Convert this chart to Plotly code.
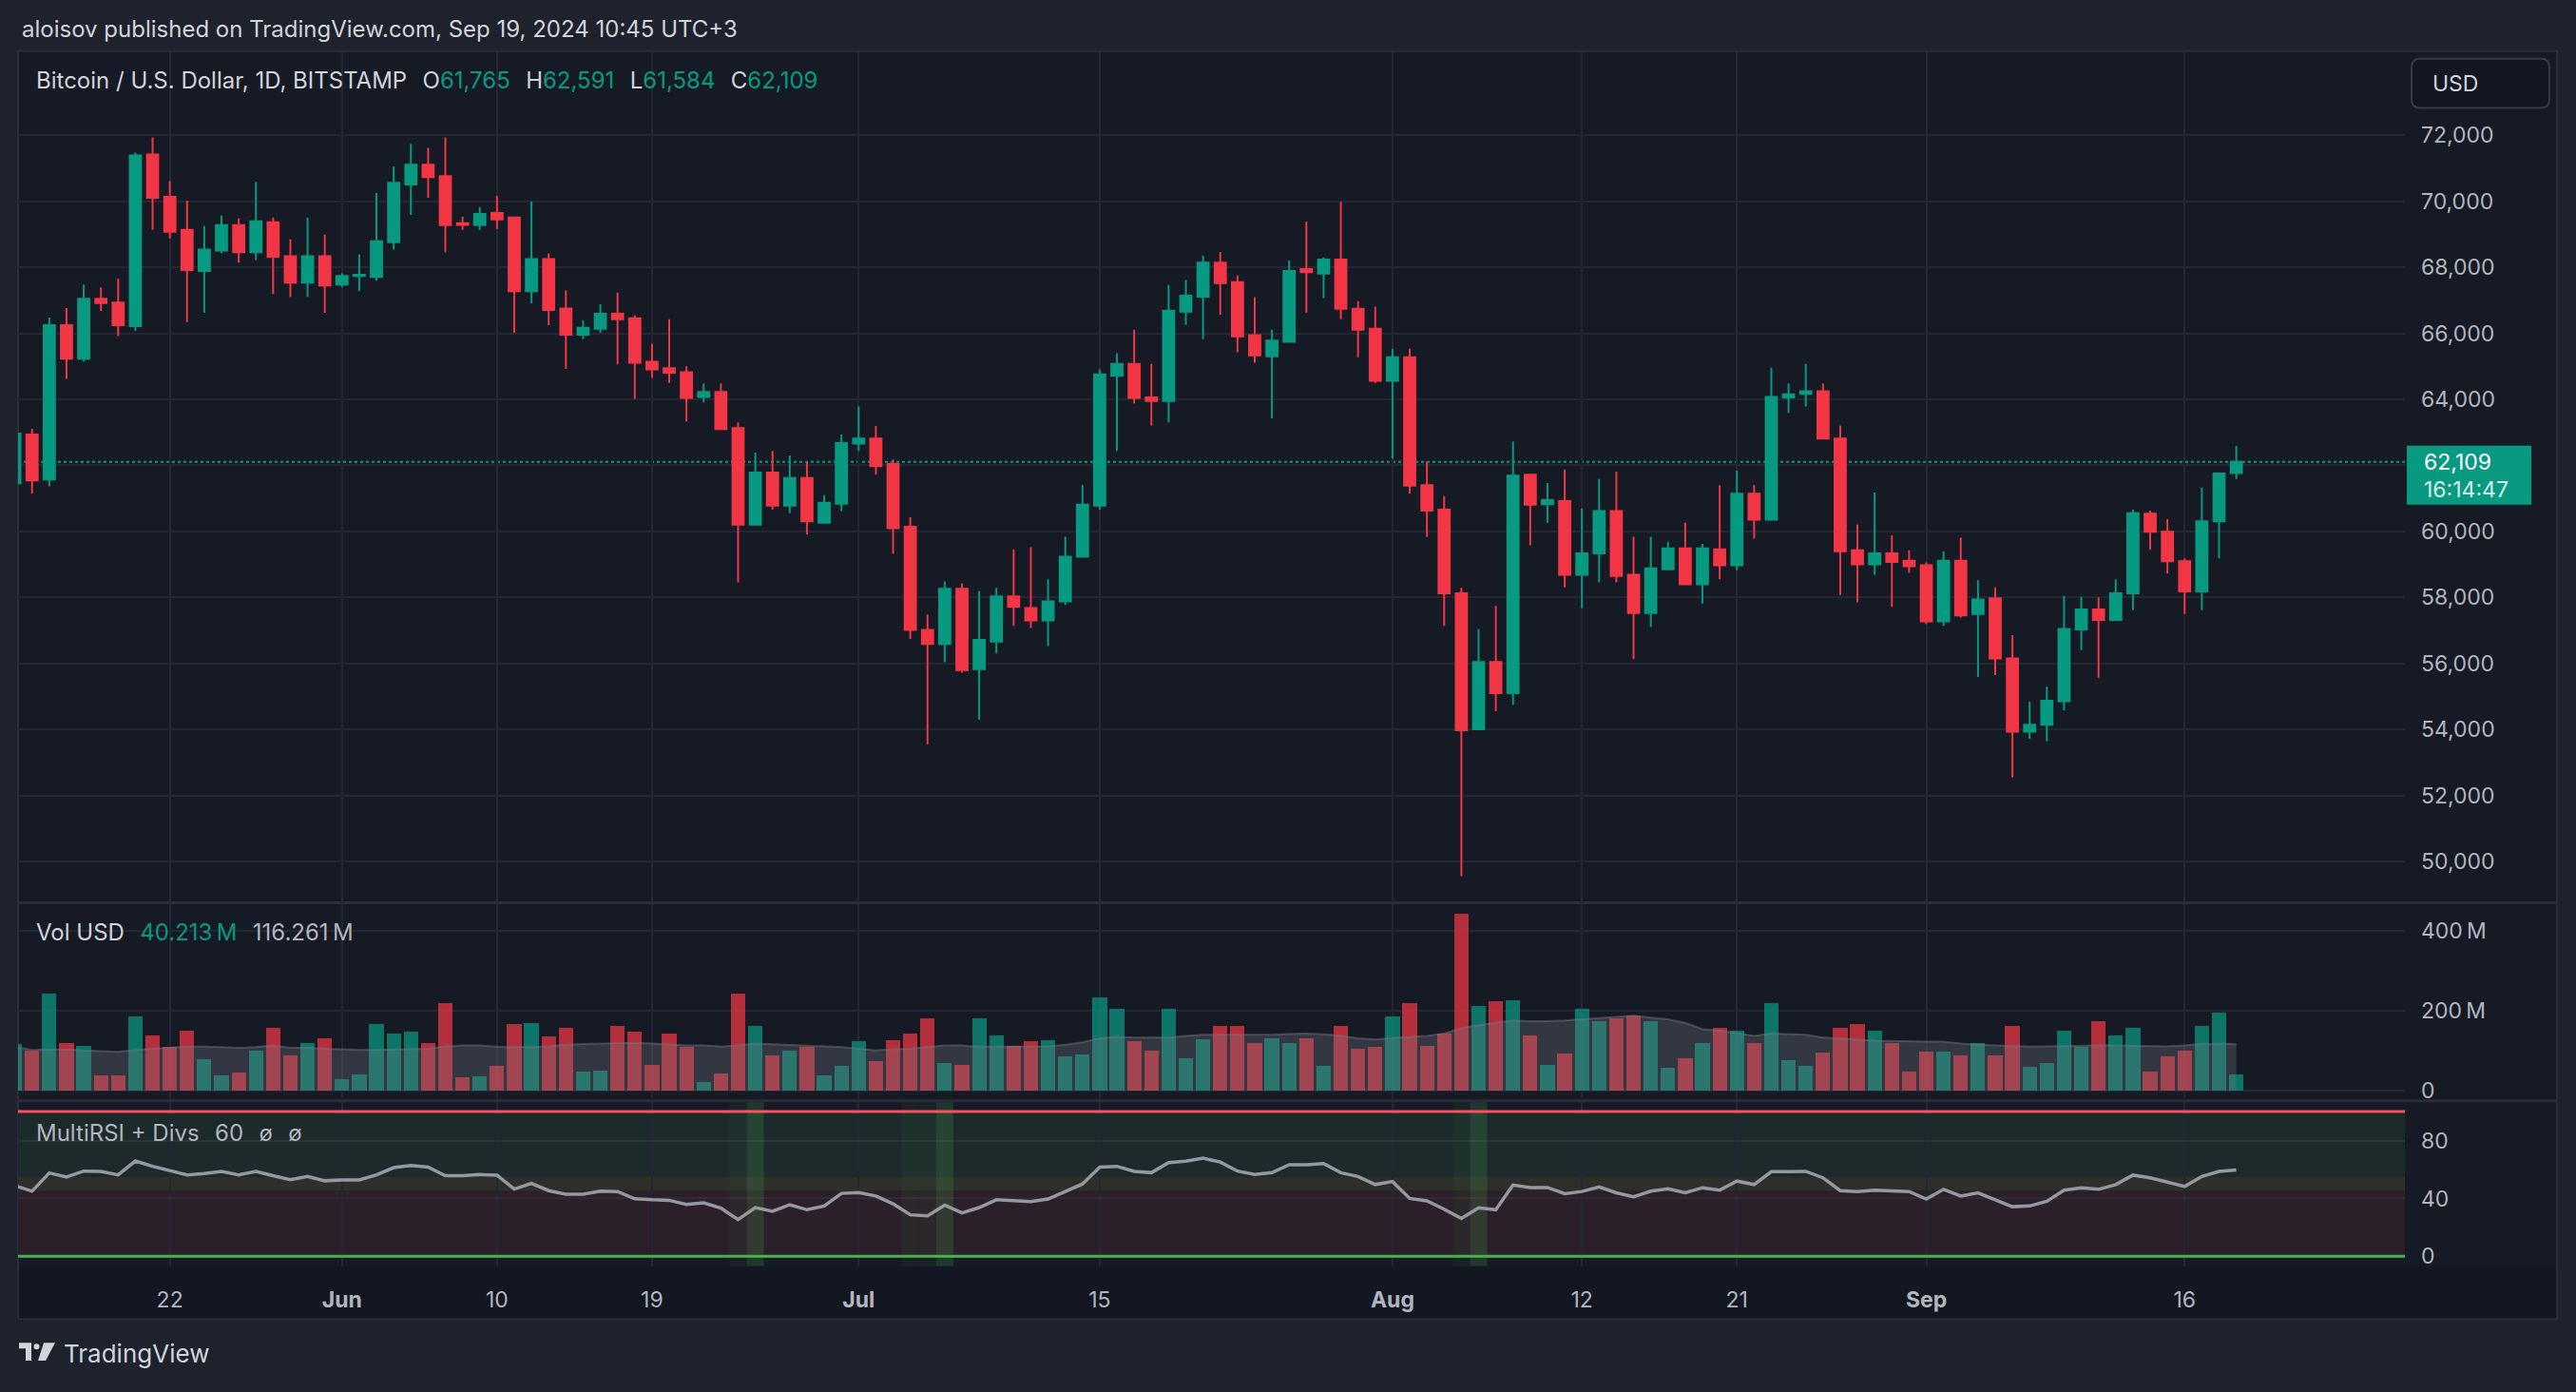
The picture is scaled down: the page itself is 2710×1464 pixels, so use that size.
import pandas as pd
import plotly.graph_objects as go

# BTC / USD daily candles (Bitstamp), 13 May - 19 Sep 2024
dates = pd.date_range("2024-05-13", "2024-09-19", freq="D")

opens = [
    61457, 62933, 61571, 66248, 65229, 67048, 66933, 66219, 71419, 70133,
    69133, 67886, 68505, 69276, 68457, 69362, 68333, 67533, 68333, 67476,
    67740, 67705, 68762, 70505, 71105, 70762, 69333, 69276, 69648, 69505,
    67276, 68248, 66750, 65957, 66139, 66594, 66458, 65137, 64940, 64818,
    64074, 64226, 63132, 60202, 61781, 60779, 61614, 60263, 60840, 62662,
    62814, 62039, 60141, 57014, 56588, 58258, 55829, 56664, 58031, 57681,
    57302, 57879, 59230, 60779, 64712, 65076, 64059, 63952, 66655, 67111,
    68143, 67551, 65942, 65304, 65745, 67946, 67809, 68234, 66746, 66139,
    64560, 65274, 61402, 60658, 58122, 54007, 56042, 55100, 61720, 60824,
    60916, 58683, 59337, 60612, 58683, 57530, 58851, 59488, 58395, 59458,
    58972, 61143, 60354, 64059, 64165, 64241, 62814, 59428, 59002, 59337,
    59108, 58972, 57272, 59108, 57500, 57970, 56148, 53931, 54143, 54857,
    57029, 57636, 57317, 58122, 60536, 59989, 59093, 58182, 60309, 61765,
]
highs = [
    63400, 63105, 66476, 66762, 67476, 67390, 67648, 71476, 71933, 70619,
    70019, 69248, 69562, 69476, 70590, 69505, 68848, 69505, 68990, 67819,
    68390, 70248, 71048, 71733, 71619, 71933, 69533, 69819, 70162, 69533,
    69990, 68419, 67300, 66397, 66883, 67232, 66549, 65683, 66427, 65000,
    64484, 64484, 63300, 62389, 62434, 62297, 62100, 61098, 62935, 63785,
    63193, 62176, 60430, 57484, 58486, 58425, 58198, 58289, 59458, 59519,
    58547, 59838, 61402, 64909, 65395, 66109, 65076, 67460, 67612, 68356,
    68462, 67748, 67095, 66109, 68204, 69388, 68295, 69981, 66974, 66807,
    65532, 65532, 62115, 61067, 58289, 57044, 57742, 62723, 61730, 61462,
    61872, 60688, 61584, 61811, 59838, 59838, 59686, 60263, 59625, 61402,
    61842, 61402, 64955, 64484, 65076, 64484, 63208, 60202, 61174, 59883,
    59428, 59063, 59397, 59807, 58517, 58304, 56860, 54842, 55298, 58046,
    58015, 58000, 58547, 60658, 60627, 60369, 59185, 61326, 61781, 62591,
]
lows = [
    60800, 61143, 61362, 64619, 65143, 66676, 65914, 66076, 69133, 68876,
    66343, 66619, 68430, 68143, 68219, 67190, 67105, 67105, 66619, 67390,
    67276, 67590, 68533, 69590, 70105, 68457, 69133, 69133, 69162, 66019,
    66905, 66248, 64920, 65820, 66018, 65061, 64013, 64651, 64499, 63330,
    63907, 63090, 58456, 60190, 60658, 60551, 59913, 60250, 60612, 62434,
    61720, 59321, 56740, 53552, 56042, 55723, 54296, 56300, 57135, 57074,
    56527, 57773, 59220, 60658, 62434, 63877, 63208, 63300, 66260, 65820,
    66564, 65425, 65107, 63421, 65730, 66625, 67065, 66427, 65274, 64499,
    62206, 61143, 59838, 57135, 49558, 53990, 54554, 54751, 59580, 60263,
    58304, 57681, 58456, 58456, 56133, 57105, 58840, 58390, 57818, 58547,
    58820, 59777, 60340, 63588, 63785, 62800, 58076, 57849, 58683, 57712,
    58744, 57196, 57135, 57393, 55587, 55647, 52549, 53718, 53643, 54584,
    56406, 55571, 57300, 57621, 59443, 58729, 57500, 57621, 59185, 61584,
]
closes = [
    62962, 61543, 66248, 65229, 67048, 66914, 66248, 71390, 70105, 69076,
    67914, 68533, 69276, 68457, 69390, 68314, 67533, 68333, 67448, 67733,
    67770, 68790, 70562, 71105, 70733, 69276, 69286, 69619, 69448, 67276,
    68248, 66705, 65960, 66169, 66594, 66427, 65107, 64909, 64803, 64044,
    64226, 63102, 60202, 61781, 60779, 61614, 60308, 60870, 62677, 62814,
    61979, 60096, 57014, 56588, 58258, 55799, 56710, 58031, 57712, 57302,
    57879, 59230, 60809, 64757, 65076, 64044, 63952, 66686, 67141, 68143,
    67521, 65911, 65334, 65775, 67885, 67855, 68234, 66746, 66109, 64560,
    65274, 61386, 60627, 58122, 53977, 56042, 55100, 61690, 60809, 60946,
    58683, 59337, 60612, 58653, 57530, 58881, 59488, 58395, 59488, 58972,
    61143, 60354, 64074, 64150, 64241, 62814, 59397, 59002, 59337, 59078,
    58942, 57272, 59108, 57454, 57940, 56148, 53931, 54143, 54872, 57044,
    57636, 57317, 58122, 60551, 59989, 59093, 58182, 60309, 61751, 62109,
]
# volume in millions of USD and its moving average (grey area)
volume_m = [
    116, 100, 242, 118, 113, 37, 37, 185, 139, 109, 149, 78, 37, 44, 99, 158, 87, 120, 130,
    28, 40, 166, 144, 147, 120, 220, 32, 35, 61, 166, 168, 135, 158, 47, 51, 163, 147, 63,
    144, 109, 21, 42, 242, 163, 87, 99, 109, 37, 61,
    123, 73, 125, 144, 180, 70, 63, 180, 139, 111, 123, 125, 85, 90, 234, 206,
    123, 99, 204, 82, 128, 161, 163, 120, 132, 120, 130, 61, 163, 104, 109,
    185, 220, 113, 142, 444, 211, 225, 227, 137, 63, 92, 204, 173, 182, 189, 173, 56, 82,
    120, 156, 151, 118, 218, 75, 61, 94, 156, 166, 151, 120, 47,
    97, 97, 87, 120, 87, 161, 59, 70, 149, 109, 173, 139, 156, 47, 85, 101, 161, 196, 40.213,
]
volume_ma_m = [
    109, 102, 103, 103, 101, 99, 97, 102, 105, 108, 110, 110, 109, 107, 109, 113, 107, 107, 105,
    103, 102, 102, 103, 104, 105, 111, 113, 113, 110, 109, 109, 111, 115, 117, 118, 120, 120,
    118, 115, 113, 113, 110, 113, 118, 116, 114, 113, 111, 109,
    105, 101, 104, 105, 109, 113, 113, 110, 110, 110, 111, 111, 115, 121, 131, 135,
    133, 133, 133, 137, 140, 140, 140, 140, 140, 142, 143, 141, 137, 131, 128,
    132, 135, 137, 143, 157, 164, 170, 176, 174, 174, 176, 179, 182, 186, 188, 183, 179, 170,
    154, 150, 143, 137, 143, 141, 140, 133, 131, 128, 125, 124, 123,
    123, 123, 118, 115, 113, 111, 110, 111, 112, 112, 113, 113, 112, 112, 111, 113, 117, 118, 116.261,
]
rsi = [
    48.9, 45.0, 57.6, 54.8, 58.9, 58.7, 56.3, 65.9, 62.2, 59.3, 56.3, 57.2, 58.7, 56.3, 58.7,
    55.7, 53.0, 55.2, 52.2,
    52.8, 52.8, 56.3, 61.3, 62.8, 61.7, 55.7, 55.7, 56.5, 56.1, 46.5, 50.4, 45.4, 43.0, 43.0,
    45.0, 44.8, 39.8, 39.1, 38.7, 35.9, 37.0, 33.3, 25.4, 33.7, 31.1, 35.7, 32.2, 34.8, 43.5,
    44.1, 41.7, 36.3, 28.7, 28.0, 35.4, 30.0, 33.7, 39.1, 38.7, 37.8, 39.6, 44.6, 50.0, 61.7, 62.2,
    58.7, 57.8, 64.8, 65.7, 67.8, 65.2, 58.9, 56.5, 57.8, 63.3, 63.3, 64.1, 57.8, 55.2, 49.6,
    51.7, 40.0, 38.3, 32.6, 26.1, 33.5, 32.2, 49.3, 47.6, 47.6, 43.3, 44.8, 48.0, 43.9, 41.1,
    45.0, 46.7, 43.9, 47.4, 45.7, 52.0, 49.6, 58.5, 58.5, 58.7, 54.3, 45.4, 44.8, 45.7, 45.2, 44.8,
    39.6, 46.3, 41.7, 43.9, 39.1, 34.3, 34.8, 38.0, 45.7, 47.4, 46.3, 49.6, 56.1, 54.3, 51.3,
    48.3, 55.2, 58.7, 59.6,
]
# days highlighted by the divergence script
div_days = ["2024-06-25", "2024-07-06", "2024-08-06"]
div_lead_days = ["2024-06-24", "2024-07-04", "2024-07-05", "2024-08-05"]

tick_dates = ["2024-05-13", "2024-05-22", "2024-06-01", "2024-06-10", "2024-06-19", "2024-07-01",
              "2024-07-15", "2024-08-01", "2024-08-12", "2024-08-21", "2024-09-01", "2024-09-16"]
tick_labels = ["13", "22", "<b>Jun</b>", "10", "19", "<b>Jul</b>", "15", "<b>Aug</b>", "12", "21",
               "<b>Sep</b>", "16"]
price_ticks = list(range(50000, 72001, 2000))

UP = "#089981"
DOWN = "#f23645"
TXT = "#d1d4dc"
AX = "#b2b5be"
GRID = "#232733"
FONT = "Inter"
W, H = 2710, 1464


def px(x):
    return x / W


def py(y):
    return 1 - y / H


day = pd.Timedelta(hours=12)
up_day = [c >= o for o, c in zip(opens, closes)]
vol_colors = ["rgba(8,153,129,0.72)" if u else "rgba(242,54,69,0.72)" for u in up_day]

fig = go.Figure()

fig.add_trace(go.Candlestick(
    x=dates, open=opens, high=highs, low=lows, close=closes,
    increasing=dict(line=dict(color=UP, width=2), fillcolor=UP),
    decreasing=dict(line=dict(color=DOWN, width=2), fillcolor=DOWN),
    whiskerwidth=0, xaxis="x", yaxis="y", showlegend=False, hoverinfo="skip",
))

fig.add_trace(go.Bar(
    x=dates, y=volume_m, marker=dict(color=vol_colors, line=dict(width=0)),
    width=0.84 * 86400000, xaxis="x", yaxis="y2", showlegend=False, hoverinfo="skip",
))
fig.add_trace(go.Scatter(
    x=dates, y=volume_ma_m, mode="lines", fill="tozeroy",
    fillcolor="rgba(120,123,134,0.30)", line=dict(color="rgba(120,123,134,0.45)", width=2),
    xaxis="x", yaxis="y2", showlegend=False, hoverinfo="skip",
))

fig.add_trace(go.Scatter(
    x=dates, y=rsi, mode="lines", line=dict(color="#9598a1", width=3.5),
    xaxis="x", yaxis="y3", showlegend=False, hoverinfo="skip",
))

shapes = []
# chart frame and the darker date strip
shapes.append(dict(type="rect", xref="paper", yref="paper", x0=px(19), x1=px(2690),
                   y0=py(1393), y1=py(54), fillcolor="#161a25",
                   line=dict(color="#2a2e39", width=2), layer="below"))
shapes.append(dict(type="rect", xref="paper", yref="paper", x0=px(20), x1=px(2689),
                   y0=py(1392), y1=py(1338), fillcolor="#131722",
                   line=dict(width=0), layer="below"))
# RSI zones
for lo, hi, col in [(55, 100, "#1c2a2b"), (45, 55, "#2e2e2b"), (0, 45, "#2b1f29")]:
    shapes.append(dict(type="rect", xref="paper", yref="y3", x0=px(19), x1=px(2530),
                       y0=lo, y1=hi, fillcolor=col, line=dict(width=0), layer="below"))
for d in div_lead_days:
    t = pd.Timestamp(d)
    shapes.append(dict(type="rect", xref="x", yref="y3 domain", x0=t - day, x1=t + day,
                       y0=0, y1=1, fillcolor="rgba(76,175,80,0.06)", line=dict(width=0),
                       layer="below"))
for d in div_days:
    t = pd.Timestamp(d)
    shapes.append(dict(type="rect", xref="x", yref="y3 domain", x0=t - day, x1=t + day,
                       y0=0, y1=1, fillcolor="rgba(76,175,80,0.2)", line=dict(width=0),
                       layer="below"))
# RSI bounds
shapes.append(dict(type="line", xref="paper", yref="y3", x0=px(19), x1=px(2530), y0=100, y1=100,
                   line=dict(color="#f7525f", width=3)))
shapes.append(dict(type="line", xref="paper", yref="y3", x0=px(19), x1=px(2530), y0=0, y1=0,
                   line=dict(color="#4caf50", width=3)))
# pane separators
for yy in [953.5, 1162.5]:
    shapes.append(dict(type="line", xref="paper", yref="paper", x0=px(19), x1=px(2690),
                       y0=py(yy), y1=py(yy), line=dict(color="#2a2e39", width=3)))
# last price line and label
last = closes[-1]
shapes.append(dict(type="line", xref="paper", yref="y", x0=px(19), x1=px(2530), y0=last, y1=last,
                   line=dict(color=UP, width=2, dash="dot"), layer="between"))
shapes.append(dict(type="rect", xref="paper", yref="y", ysizemode="pixel", yanchor=last,
                   x0=px(2532), x1=px(2663), y0=-45, y1=17, fillcolor=UP,
                   line=dict(width=0)))
# USD box with rounded corners
bx0, bx1, by0, by1, r = 2537, 2682, 62, 114, 9
usd_path = (f"M {px(bx0 + r)} {py(by0)} L {px(bx1 - r)} {py(by0)} "
            f"Q {px(bx1)} {py(by0)} {px(bx1)} {py(by0 + r)} L {px(bx1)} {py(by1 - r)} "
            f"Q {px(bx1)} {py(by1)} {px(bx1 - r)} {py(by1)} L {px(bx0 + r)} {py(by1)} "
            f"Q {px(bx0)} {py(by1)} {px(bx0)} {py(by1 - r)} L {px(bx0)} {py(by0 + r)} "
            f"Q {px(bx0)} {py(by0)} {px(bx0 + r)} {py(by0)} Z")
shapes.append(dict(type="path", xref="paper", yref="paper", path=usd_path,
                   fillcolor="#131722", line=dict(color="#363a45", width=2)))
# TradingView logo
logo = [
    "M 20 1418 L 33 1418 L 33 1437 L 27 1437 L 27 1424 L 20 1424 Z",
    "M 46 1418 L 58 1418 L 48 1437 L 40 1437 Z",
]
for p in logo:
    pts = p.split()
    out = []
    i = 0
    while i < len(pts):
        if pts[i] in ("M", "L"):
            out.append(f"{pts[i]} {px(float(pts[i + 1]))} {py(float(pts[i + 2]))}")
            i += 3
        else:
            out.append(pts[i])
            i += 1
    shapes.append(dict(type="path", xref="paper", yref="paper", path=" ".join(out),
                       fillcolor=TXT, line=dict(width=0)))
shapes.append(dict(type="circle", xref="paper", yref="paper", x0=px(35.5), x1=px(41.5),
                   y0=py(1425), y1=py(1419), fillcolor=TXT, line=dict(width=0)))

sp = "\u2002\u2009"
o, h, l, c = opens[-1], highs[-1], lows[-1], closes[-1]


def g(v):
    return f"<span style='color:{UP}'>{v:,}</span>"


legend_txt = (f"Bitcoin / U.S. Dollar, 1D, BITSTAMP{sp}O{g(o)}{sp}H{g(h)}{sp}L{g(l)}{sp}C{g(c)}")
vol_txt = (f"Vol USD{sp}<span style='color:{UP}'>{volume_m[-1]:.3f}\u202fM</span>{sp}"
           f"<span style='color:{AX}'>{volume_ma_m[-1]:.3f}\u202fM</span>")

annotations = [
    dict(text="aloisov published on TradingView.com, Sep 19, 2024 10:45 UTC+3",
         x=px(21), y=py(31), font=dict(size=24, color=TXT)),
    dict(text=legend_txt, x=px(36), y=py(85), font=dict(size=24, color=TXT)),
    dict(text=vol_txt, x=px(36), y=py(985), font=dict(size=24, color=TXT)),
    dict(text=f"MultiRSI + Divs{sp}60{sp}ø{sp}ø", x=px(36), y=py(1196),
         font=dict(size=24, color=AX)),
    dict(text="TradingView", x=px(65), y=py(1429), font=dict(size=26, color=TXT)),
    dict(text="USD", x=px(2557), y=py(88), font=dict(size=23, color=TXT)),
    dict(text=f"{last:,}", x=px(2548), y=last, yref="y", font=dict(size=23, color="#ffffff")),
    dict(text="16:14:47", x=px(2548), y=last, yref="y", yshift=-29,
         font=dict(size=23, color="#d6efe9")),
]
for a in annotations:
    a.setdefault("xref", "paper")
    a.setdefault("yref", "paper")
    a.update(xanchor="left", yanchor="middle", showarrow=False)
    a["font"]["family"] = FONT

tick_font = dict(family=FONT, size=23, color=AX)
fig.update_layout(
    width=W, height=H,
    margin=dict(l=0, r=0, t=0, b=0),
    paper_bgcolor="#1e222d",
    plot_bgcolor="rgba(0,0,0,0)",
    boxgap=0.35, boxgroupgap=0,
    bargap=0,
    showlegend=False,
    xaxis=dict(type="date", domain=[px(19), px(2530)], anchor="y3",
               range=["2024-05-13 04:30", "2024-09-28 19:00"],
               tickvals=tick_dates, ticktext=tick_labels, tickfont=tick_font,
               showgrid=True, gridcolor=GRID, gridwidth=2, zeroline=False, showline=False,
               ticks="", ticklabelstandoff=19, rangeslider=dict(visible=False)),
    yaxis=dict(domain=[py(952), py(54)], anchor="x", side="right",
               range=[48790, 74547], tickvals=price_ticks, tickformat=",d",
               tickfont=tick_font, showgrid=True, gridcolor=GRID, gridwidth=2,
               zeroline=False, showline=False, ticks="", ticklabelstandoff=16),
    yaxis2=dict(domain=[py(1160), py(955)], anchor="x", side="right",
                range=[-19.7, 467.2], tickvals=[0, 200, 400],
                ticktext=["0", "200\u202fM", "400\u202fM"], tickfont=tick_font,
                showgrid=True, gridcolor=GRID, gridwidth=2, zeroline=False,
                showline=False, ticks="", ticklabelstandoff=16),
    yaxis3=dict(domain=[py(1337), py(1164)], anchor="x", side="right",
                range=[-6.7, 106.5], tickvals=[0, 40, 80], tickfont=tick_font,
                showgrid=True, gridcolor="rgba(255,255,255,0.05)", gridwidth=2,
                zeroline=False, showline=False, ticks="", ticklabelstandoff=16),
    shapes=shapes,
    annotations=annotations,
)

# pin the figure to the window origin so the page has no margin or scroll
pin = ("document.body.style.margin='0';document.body.style.overflow='hidden';"
       "var d=document.getElementById('{plot_id}');"
       "d.style.position='fixed';d.style.left='0px';d.style.top='0px';")
fig.write_html("out.html", config={"displayModeBar": False}, post_script=pin)
